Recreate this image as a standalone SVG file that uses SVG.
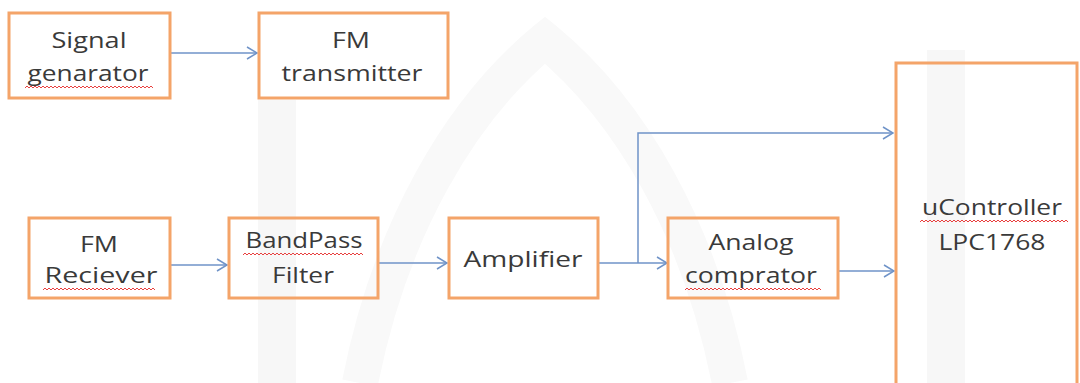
<svg xmlns="http://www.w3.org/2000/svg" width="1080" height="383" viewBox="0 0 1080 383">
  <style>
    .box { fill: none; stroke: #F4A469; stroke-width: 3; }
    .lbl { font-family: "Open Sans", "Liberation Sans", sans-serif; font-size: 22px; fill: #3a3a3a; text-anchor: middle; }
    .conn { fill: none; stroke: #6F93C8; stroke-width: 1.5; }
    .wm { fill: #f7f7f7; }
    .sq { fill: none; stroke: #E8403F; stroke-width: 1; }
  </style>
  <defs>
    <marker id="arrow" markerUnits="userSpaceOnUse" markerWidth="12" markerHeight="14" refX="11" refY="7" orient="auto">
      <path d="M1,1 L11,7 L1,13" fill="none" stroke="#6F93C8" stroke-width="1.5"/>
    </marker>
  </defs>
  <rect width="1080" height="383" fill="#ffffff"/>
  <g id="watermark">
    <rect class="wm" x="258" y="100" width="38" height="283"/>
    <rect class="wm" x="927" y="50" width="38" height="333"/>
    <path d="M360,383 C390,230 460,110 545,40 C630,110 700,230 730,383" fill="none" stroke="#f9f9f9" stroke-width="36"/>
  </g>
  <g id="connectors">
    <path class="conn" d="M170,53 H257" marker-end="url(#arrow)"/>
    <path class="conn" d="M170,265 H227" marker-end="url(#arrow)"/>
    <path class="conn" d="M378,263 H447" marker-end="url(#arrow)"/>
    <path class="conn" d="M598,263 H667" marker-end="url(#arrow)"/>
    <path class="conn" d="M638,263 V133 H893" marker-end="url(#arrow)"/>
    <path class="conn" d="M838,271 H894" marker-end="url(#arrow)"/>
  </g>
  <g id="signal-generator">
    <rect class="box" x="9" y="13" width="161" height="85"/>
    <text class="lbl" x="89" y="48" textLength="75" lengthAdjust="spacingAndGlyphs">Signal</text>
    <text class="lbl" x="88" y="81" textLength="121" lengthAdjust="spacingAndGlyphs">genarator</text>
    <path class="sq" d="M25,88 l2,-2 2,2 2,-2 2,2 2,-2 2,2 2,-2 2,2 2,-2 2,2 2,-2 2,2 2,-2 2,2 2,-2 2,2 2,-2 2,2 2,-2 2,2 2,-2 2,2 2,-2 2,2 2,-2 2,2 2,-2 2,2 2,-2 2,2 2,-2 2,2 2,-2 2,2 2,-2 2,2 2,-2 2,2 2,-2 2,2 2,-2 2,2 2,-2 2,2 2,-2 2,2 2,-2 2,2 2,-2 2,2 2,-2 2,2 2,-2 2,2 2,-2 2,2 2,-2 2,2 2,-2 2,2 2,-2 2,2 2,-2 2,2"/>
  </g>
  <g id="fm-transmitter">
    <rect class="box" x="259" y="13" width="189" height="85"/>
    <text class="lbl" x="351" y="48" textLength="38" lengthAdjust="spacingAndGlyphs">FM</text>
    <text class="lbl" x="352" y="81" textLength="141" lengthAdjust="spacingAndGlyphs">transmitter</text>
  </g>
  <g id="fm-receiver">
    <rect class="box" x="29" y="218" width="141" height="80"/>
    <text class="lbl" x="99" y="252" textLength="38" lengthAdjust="spacingAndGlyphs">FM</text>
    <text class="lbl" x="101" y="283" textLength="113" lengthAdjust="spacingAndGlyphs">Reciever</text>
    <path class="sq" d="M43,290 l2,-2 2,2 2,-2 2,2 2,-2 2,2 2,-2 2,2 2,-2 2,2 2,-2 2,2 2,-2 2,2 2,-2 2,2 2,-2 2,2 2,-2 2,2 2,-2 2,2 2,-2 2,2 2,-2 2,2 2,-2 2,2 2,-2 2,2 2,-2 2,2 2,-2 2,2 2,-2 2,2 2,-2 2,2 2,-2 2,2 2,-2 2,2 2,-2 2,2 2,-2 2,2 2,-2 2,2 2,-2 2,2 2,-2 2,2 2,-2 2,2 2,-2 2,2"/>
  </g>
  <g id="bandpass-filter">
    <rect class="box" x="229" y="218" width="149" height="80"/>
    <text class="lbl" x="304" y="248" textLength="117" lengthAdjust="spacingAndGlyphs">BandPass</text>
    <text class="lbl" x="303" y="283" textLength="62" lengthAdjust="spacingAndGlyphs">Filter</text>
    <path class="sq" d="M243,255 l2,-2 2,2 2,-2 2,2 2,-2 2,2 2,-2 2,2 2,-2 2,2 2,-2 2,2 2,-2 2,2 2,-2 2,2 2,-2 2,2 2,-2 2,2 2,-2 2,2 2,-2 2,2 2,-2 2,2 2,-2 2,2 2,-2 2,2 2,-2 2,2 2,-2 2,2 2,-2 2,2 2,-2 2,2 2,-2 2,2 2,-2 2,2 2,-2 2,2 2,-2 2,2 2,-2 2,2 2,-2 2,2 2,-2 2,2 2,-2 2,2 2,-2 2,2 2,-2 2,2 2,-2 2,2"/>
  </g>
  <g id="amplifier">
    <rect class="box" x="449" y="218" width="149" height="80"/>
    <text class="lbl" x="523" y="267" textLength="119" lengthAdjust="spacingAndGlyphs">Amplifier</text>
  </g>
  <g id="analog-comparator">
    <rect class="box" x="668" y="218" width="170" height="80"/>
    <text class="lbl" x="751" y="250" textLength="85" lengthAdjust="spacingAndGlyphs">Analog</text>
    <text class="lbl" x="751" y="283" textLength="132" lengthAdjust="spacingAndGlyphs">comprator</text>
    <path class="sq" d="M685,290 l2,-2 2,2 2,-2 2,2 2,-2 2,2 2,-2 2,2 2,-2 2,2 2,-2 2,2 2,-2 2,2 2,-2 2,2 2,-2 2,2 2,-2 2,2 2,-2 2,2 2,-2 2,2 2,-2 2,2 2,-2 2,2 2,-2 2,2 2,-2 2,2 2,-2 2,2 2,-2 2,2 2,-2 2,2 2,-2 2,2 2,-2 2,2 2,-2 2,2 2,-2 2,2 2,-2 2,2 2,-2 2,2 2,-2 2,2 2,-2 2,2 2,-2 2,2 2,-2 2,2 2,-2 2,2 2,-2 2,2 2,-2 2,2 2,-2 2,2 2,-2 2,2"/>
  </g>
  <g id="ucontroller">
    <rect class="box" x="896" y="63" width="181" height="330"/>
    <text class="lbl" x="992" y="215" textLength="140" lengthAdjust="spacingAndGlyphs">uController</text>
    <text class="lbl" x="992" y="250" textLength="107" lengthAdjust="spacingAndGlyphs">LPC1768</text>
    <path class="sq" d="M920,222 l2,-2 2,2 2,-2 2,2 2,-2 2,2 2,-2 2,2 2,-2 2,2 2,-2 2,2 2,-2 2,2 2,-2 2,2 2,-2 2,2 2,-2 2,2 2,-2 2,2 2,-2 2,2 2,-2 2,2 2,-2 2,2 2,-2 2,2 2,-2 2,2 2,-2 2,2 2,-2 2,2 2,-2 2,2 2,-2 2,2 2,-2 2,2 2,-2 2,2 2,-2 2,2 2,-2 2,2 2,-2 2,2 2,-2 2,2 2,-2 2,2 2,-2 2,2 2,-2 2,2 2,-2 2,2 2,-2 2,2 2,-2 2,2 2,-2 2,2 2,-2 2,2 2,-2 2,2 2,-2 2,2 2,-2 2,2"/>
  </g>
</svg>
